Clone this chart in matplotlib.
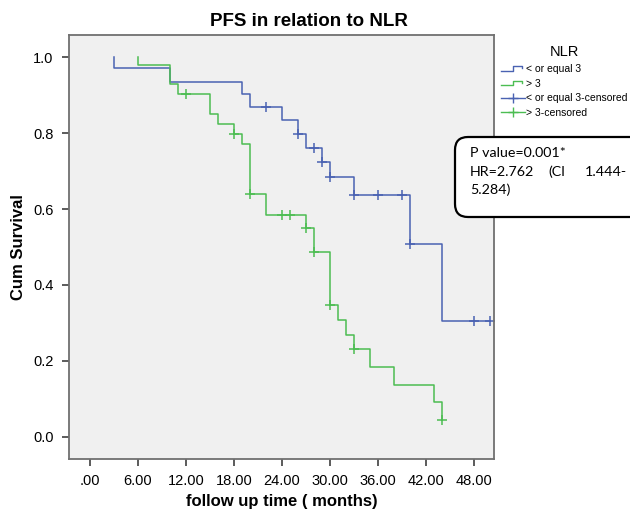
import numpy as np
import matplotlib
matplotlib.use("Agg")
import matplotlib.pyplot as plt
from matplotlib.lines import Line2D
from matplotlib.patches import FancyBboxPatch
from matplotlib.legend_handler import HandlerBase

plt.rcParams['font.family'] = ['Liberation Sans', 'DejaVu Sans']

# survival steps (time in months, survival after the drop)
low_start = 3
low_times = [3, 10, 19, 20, 24, 26, 27, 29, 30, 33, 40, 44]
low_surv = [0.970, 0.935, 0.903, 0.869, 0.834, 0.797, 0.761, 0.723, 0.685, 0.637, 0.508, 0.305]
low_end = 50
low_cens_t = [22, 26, 28, 29, 30, 33, 36, 39, 40, 48, 50]

high_start = 6
high_times = [6, 10, 11, 15, 16, 18, 19, 20, 22, 27, 28, 30, 31, 32, 33, 35, 38, 43, 44]
high_surv = [0.979, 0.928, 0.903, 0.850, 0.825, 0.797, 0.771, 0.639, 0.584, 0.551, 0.488,
             0.347, 0.308, 0.268, 0.231, 0.183, 0.137, 0.093, 0.045]
high_end = 44
high_cens_t = [12, 18, 20, 24, 25, 27, 28, 30, 33, 44]

xticks = [0, 6, 12, 18, 24, 30, 36, 42, 48]
xticklabels = ['.00', '6.00', '12.00', '18.00', '24.00', '30.00', '36.00', '42.00', '48.00']
yticks = [0.0, 0.2, 0.4, 0.6, 0.8, 1.0]

blue = '#4a62b2'
green = '#4cbd52'


def surv_at(times, surv, t):
    # survival value of the step curve at time t
    s = 1.0
    for ti, si in zip(times, surv):
        if ti <= t:
            s = si
    return s


class StepHandler(HandlerBase):
    def create_artists(self, legend, orig_handle, xdescent, ydescent, width, height, fontsize, trans):
        x0 = -xdescent
        y0 = -ydescent + height * 0.15
        y1 = -ydescent + height * 0.75
        xs = [x0, x0 + width * 0.5, x0 + width * 0.5, x0 + width * 0.85, x0 + width * 0.85]
        ys = [y0, y0, y1, y1, y0 + (y1 - y0) * 0.6]
        ln = Line2D(xs, ys, color=orig_handle.get_color(), lw=1.0)
        ln.set_transform(trans)
        return [ln]


fig = plt.figure(figsize=(6.3, 5.11), dpi=100)
ax = fig.add_axes([69 / 630, 52 / 511, 425 / 630, 424 / 511])
ax.set_facecolor('#f0f0f0')

for start, times, surv, end, cens, col in [
        (low_start, low_times, low_surv, low_end, low_cens_t, blue),
        (high_start, high_times, high_surv, high_end, high_cens_t, green)]:
    xs = np.r_[start, times, end]
    ys = np.r_[1.0, surv, surv[-1]]
    ax.step(xs, ys, where='post', color=col, lw=1.1)
    cy = [surv_at(times, surv, t) for t in cens]
    ax.plot(cens, cy, ls='none', marker='+', color=col, markersize=7, mew=1.1)

ax.set_xlim(-2.6, 50.5)
ax.set_ylim(-0.058, 1.058)
ax.set_xticks(xticks)
ax.set_xticklabels(xticklabels, fontsize=10.5)
ax.set_yticks(yticks)
ax.set_yticklabels(['%.1f' % v for v in yticks], fontsize=10.5)
ax.tick_params(direction='out', length=5, width=1.2, color='#404040', pad=6)
for sp in ax.spines.values():
    sp.set_color('#707070')
    sp.set_linewidth(1.3)

ax.set_xlabel('follow up time ( months)', fontsize=12, fontweight='bold', labelpad=4)
ax.set_ylabel('Cum Survival', fontsize=12, fontweight='bold', labelpad=5)
fig.text(309 / 630, 1 - 21 / 511, 'PFS in relation to NLR', fontsize=13.5,
         fontweight='bold', ha='center', va='center')

handles = [Line2D([], [], color=blue), Line2D([], [], color=green),
           Line2D([], [], color=blue, marker='+', markersize=7, lw=1.0),
           Line2D([], [], color=green, marker='+', markersize=7, lw=1.0)]
labels = ['< or equal 3', '> 3', '< or equal 3-censored', '> 3-censored']
leg = ax.legend(handles, labels, title='NLR', loc='upper left',
                bbox_to_anchor=(496 / 630, 1 - 40 / 511), bbox_transform=fig.transFigure,
                frameon=False, fontsize=7.5, title_fontsize=10.5, borderpad=0,
                handlelength=2.3, handletextpad=0.05, labelspacing=0.45,
                handler_map={handles[0]: StepHandler(), handles[1]: StepHandler()})
leg._legend_box.align = 'center'

box = FancyBboxPatch((4.55, 2.94), 1.95, 0.80, boxstyle='round,pad=0,rounding_size=0.13',
                     transform=fig.dpi_scale_trans, facecolor='white', edgecolor='black',
                     lw=1.6, clip_on=False, zorder=10)
fig.add_artist(box)
box_font = dict(fontsize=10.3, family='Lato', va='center', ha='left', zorder=11)
fig.text(470 / 630, 1 - 153 / 511, 'P value=0.001*', **box_font)
fig.text(470 / 630, 1 - 172 / 511, 'HR=2.762', **box_font)
fig.text(548 / 630, 1 - 172 / 511, '(CI', **box_font)
fig.text(585 / 630, 1 - 172 / 511, '1.444-', **box_font)
fig.text(470 / 630, 1 - 190 / 511, '5.284)', **box_font)

fig.savefig('out.png', dpi=100)
